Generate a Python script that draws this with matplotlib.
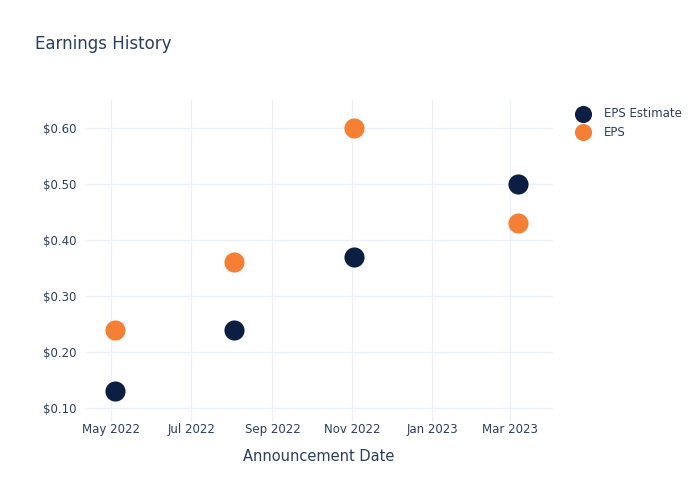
import matplotlib
matplotlib.use('Agg')
import matplotlib.pyplot as plt
import matplotlib.dates as mdates
import numpy as np
from datetime import datetime

dates = [datetime(2022, 5, 4), datetime(2022, 8, 3), datetime(2022, 11, 2), datetime(2023, 3, 7)]
eps_estimate = [0.13, 0.24, 0.37, 0.50]
eps_actual = [0.24, 0.36, 0.60, 0.43]

text_color = '#2a3f5f'
grid_color = '#ebf0f8'
navy = '#0c1e41'
orange = '#f58035'

fig = plt.figure(figsize=(7, 5), dpi=100)
ax = fig.add_axes([85 / 700, 1 - 422 / 500, (553 - 85) / 700, (422 - 100) / 500])

ax.scatter(dates, eps_estimate, s=210, color=navy, label='EPS Estimate', zorder=3, linewidths=0)
ax.scatter(dates, eps_actual, s=210, color=orange, label='EPS', zorder=3, linewidths=0)

ax.set_xlim(datetime(2022, 4, 11), datetime(2023, 4, 3))
ax.set_ylim(0.075, 0.65)

xticks = [datetime(2022, 5, 1), datetime(2022, 7, 1), datetime(2022, 9, 1),
          datetime(2022, 11, 1), datetime(2023, 1, 1), datetime(2023, 3, 1)]
ax.set_xticks(xticks)
ax.xaxis.set_major_formatter(mdates.DateFormatter('%b %Y'))
yticks = [0.10, 0.20, 0.30, 0.40, 0.50, 0.60]
ax.set_yticks(yticks)
ax.set_yticklabels(['$%.2f' % v for v in yticks])

ax.grid(True, color=grid_color, linewidth=1)
ax.set_axisbelow(True)
for s in ax.spines.values():
    s.set_visible(False)
ax.tick_params(axis='both', length=0, labelsize=8.5, colors=text_color)
ax.tick_params(axis='y', pad=6)
ax.tick_params(axis='x', pad=1)

ax.set_xlabel('Announcement Date', fontsize=10.5, color=text_color, labelpad=9)

fig.text(35 / 700, 1 - 44 / 500, 'Earnings History', fontsize=12, color=text_color, va='center', ha='left')

leg = fig.legend(loc='upper left', bbox_to_anchor=(561 / 700, 1 - 96 / 500), frameon=False,
                 fontsize=8.5, handletextpad=0.7, labelspacing=0.5, markerscale=0.85)
for t in leg.get_texts():
    t.set_color(text_color)

fig.savefig('out.png', dpi=100, facecolor='white')
